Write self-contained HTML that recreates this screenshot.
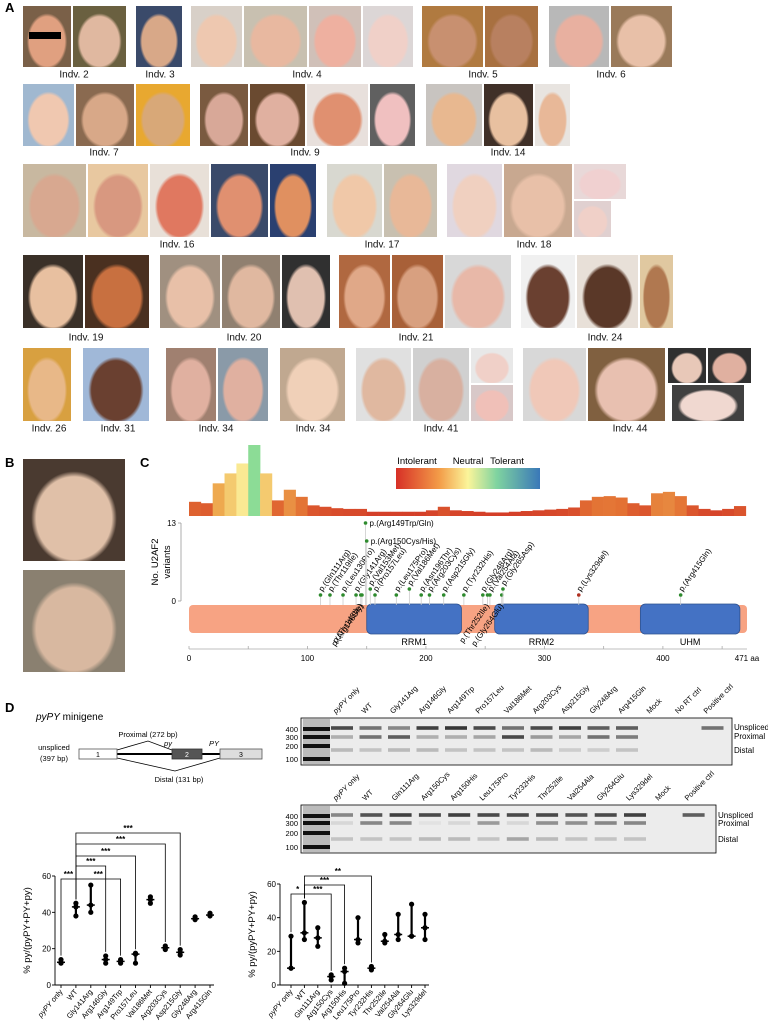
<!DOCTYPE html>
<html><head><meta charset="utf-8">
<style>
html,body{margin:0;padding:0;background:#fff;}
#page{position:relative;width:768px;height:1031px;overflow:hidden;font-family:"Liberation Sans",sans-serif;}
.ph{position:absolute;box-sizing:border-box;border:1px solid #fff;}
.lb{position:absolute;font-size:10px;color:#111;transform:translate(-50%,-50%);white-space:nowrap;}
.pl{position:absolute;font-weight:bold;font-size:13px;}
svg{position:absolute;left:0;top:0;}
</style></head>
<body>
<div id="page">
<div class="pl" style="left:5px;top:0px">A</div>
<div class="pl" style="left:5px;top:455px">B</div>
<div class="pl" style="left:140px;top:455px">C</div>
<div class="pl" style="left:5px;top:700px">D</div>
<div id="photos"></div>
<svg id="chart" width="768" height="1031"></svg>
</div>
<script>
// ---------- Panel A photos (layout, not data) ----------
const photoBoxes = [
 [22,72,5,68,'#7a6048','#e0a080'],[72,127,5,68,'#6a6040','#e0b8a0'],[135,183,5,68,'#3a4a6a','#d8a888'],
 [190,243,5,68,'#d8d0c8','#eec8b0'],[243,308,5,68,'#c8c0b0','#e8b8a0'],[308,362,5,68,'#d0c0b8','#eeb0a0'],[362,414,5,68,'#dcd6d6','#f0d0c8'],
 [421,484,5,68,'#b07a40','#c89070'],[484,539,5,68,'#a87040','#b88060'],[548,610,5,68,'#b8b8b8','#e8b0a0'],[610,673,5,68,'#9a7a5a','#e8c0a8'],
 [22,75,83,147,'#a0b8d0','#f0c8b0'],[75,135,83,147,'#8a6a50','#d8a888'],[135,191,83,147,'#e8a830','#d8a878'],
 [199,249,83,147,'#7a5a40','#d8a898'],[249,306,83,147,'#6a4a30','#e0b0a0'],[306,369,83,147,'#e8e0dc','#e09070'],[369,416,83,147,'#606060','#f0c0c0'],
 [425,483,83,147,'#c8c4c0','#e8b890'],[483,534,83,147,'#403028','#e8c0a0'],[534,571,83,147,'#e8e4e0','#e8b898'],
 [22,87,163,238,'#c8b8a0','#d8a890'],[87,149,163,238,'#e8c8a0','#d89880'],[149,210,163,238,'#e8e0d8','#e07860'],[210,269,163,238,'#3a4a6a','#e09070'],[269,317,163,238,'#2a4070','#e09060'],
 [326,383,163,238,'#d8d8d0','#f0c8a8'],[383,438,163,238,'#c8c0b0','#e8b898'],
 [446,503,163,238,'#e0d8e0','#f0d0c0'],[503,573,163,238,'#c8a890','#e8c0a8'],[573,627,163,200,'#e8d8d8','#f0d0d0'],[573,612,200,238,'#e0d0d0','#f0d0c8'],
 [22,84,254,329,'#3a3028','#e8c0a0'],[84,150,254,329,'#4a3020','#c87040'],
 [159,221,254,329,'#a09080','#e8c0a8'],[221,281,254,329,'#908070','#e0b8a0'],[281,331,254,329,'#303030','#e0c0b0'],
 [338,391,254,329,'#b06840','#e0a888'],[391,444,254,329,'#a86038','#d8a080'],[444,512,254,329,'#d8d8d8','#e8b8a8'],
 [520,576,254,329,'#f0f0f0','#6a4030'],[576,639,254,329,'#e8e0d8','#5a3828'],[639,674,254,329,'#e0c8a0','#b07850'],
 [22,72,347,422,'#d8a040','#e8b888'],[82,150,347,422,'#a0b8d8','#6a4030'],
 [165,217,347,422,'#a08070','#e0b0a0'],[217,269,347,422,'#8a9aa8','#e0b0a0'],[279,346,347,422,'#c0a890','#f0d0b8'],
 [355,412,347,422,'#e0e0e0','#e0b8a0'],[412,470,347,422,'#d0d0d0','#d8b0a0'],[470,514,347,384,'#e8e8e8','#f0d0c8'],[470,514,384,422,'#d8c8c8','#f0c0b8'],
 [522,587,347,422,'#d8d8d8','#f0c8b8'],[587,666,347,422,'#806040','#e8c0b0'],[667,707,347,384,'#303030','#e8c8b8'],[707,752,347,384,'#303030','#e0b0a0'],[671,745,384,422,'#404040','#f0d8d0'],
 [22,126,458,562,'#4a3a30','#e0c0a8'],[22,126,569,673,'#8a8070','#d8b8a0']
];
const photoLabels = [['Indv. 2',74,75],['Indv. 3',160,75],['Indv. 4',307,75],['Indv. 5',483,75],['Indv. 6',611,75],
 ['Indv. 7',104,153],['Indv. 9',305,153],['Indv. 14',508,153],
 ['Indv. 16',177,245],['Indv. 17',382,245],['Indv. 18',534,245],
 ['Indv. 19',86,338],['Indv. 20',244,338],['Indv. 21',416,338],['Indv. 24',605,338],
 ['Indv. 26',49,429],['Indv. 31',118,429],['Indv. 34',216,429],['Indv. 34',313,429],['Indv. 41',441,429],['Indv. 44',630,429]];
const ph = document.getElementById('photos');
photoBoxes.forEach((b,i)=>{
  const d=document.createElement('div');
  d.className='ph';
  
  
  d.style.left=b[0]+'px';d.style.top=b[2]+'px';d.style.width=(b[1]-b[0])+'px';d.style.height=(b[3]-b[2])+'px';
  d.style.background=`radial-gradient(ellipse 42% 46% at 50% 58%, ${b[5]} 0 88%, transparent 100%), ${b[4]}`;
  ph.appendChild(d);
});
photoLabels.forEach(l=>{
  const d=document.createElement('div');
  d.className='lb';d.textContent=l[0];
  
  
  d.style.left=l[1]+'px';d.style.top=l[2]+'px';
  ph.appendChild(d);
});
const bar=document.createElement('div');


bar.style.cssText='position:absolute;left:29px;top:32px;width:32px;height:7px;background:#000';
ph.appendChild(bar);

// ---------- Panel C data ----------
const profileScores = [20,18,46,60,74,100,60,22,37,27,15,13,11,10,10,6,6,6,6,6,8,13,8,7,6,5,5,6,7,8,9,10,12,22,27,28,26,18,15,32,34,28,15,10,8,10,14];
const variantNames = ['p.(Gln111Arg)','p.(Thr119Ile)','p.(Leu130Pro)','p.(Gly141Arg)','p.(Thr145Ile)','p.(Arg146Gly)','p.(Arg149Trp/Gln)','p.(Arg150Cys/His)','p.(Val153Met)','p.(Pro157Leu)','p.(Leu175Pro)','p.(Val186Met)','p.(Asn196Thr)','p.(Arg203Cys)','p.(Asp215Gly)','p.(Tyr232His)','p.(Gly248Arg)','p.(Thr252Ile)','p.(Val254Ala)','p.(Gly264Glu)','p.(Gly265Asp)','p.(Lys329del)','p.(Arg415Gln)'];
const variantPos = [111,119,130,141,145,146,149,150,153,157,175,186,196,203,215,232,248,252,254,264,265,329,415];
const variantCounts = [1,1,1,1,1,1,13,10,2,1,1,2,1,1,1,1,1,1,1,1,2,1,1];
const domainNames = ['RRM1','RRM2','UHM'];
const domainStart = [150,258,381];
const domainEnd = [230,337,465];
const aaTicks = [0,100,200,300,400,471];

// ---------- Panel D data ----------
const gel1Lanes = ['pyPY only','WT','Gly141Arg','Arg146Gly','Arg149Trp','Pro157Leu','Val186Met','Arg203Cys','Asp215Gly','Gly248Arg','Arg415Gln','Mock','No RT ctrl','Positive ctrl'];
const gel1Unspliced = [0.8,0.6,0.5,0.85,0.9,0.8,0.6,0.8,0.85,0.7,0.7,0,0,0.6];
const gel1Proximal = [0.3,0.6,0.7,0.3,0.3,0.35,0.8,0.4,0.35,0.6,0.55,0,0,0];
const gel1Distal = [0.25,0.2,0.25,0.25,0.2,0.2,0.2,0.25,0.15,0.15,0.2,0,0,0];
const gel2Lanes = ['pyPY only','WT','Gln111Arg','Arg150Cys','Arg150His','Leu175Pro','Tyr232His','Thr252Ile','Val254Ala','Gly264Glu','Lys329del','Mock','Positive ctrl'];
const gel2Unspliced = [0.5,0.75,0.85,0.8,0.85,0.8,0.8,0.8,0.75,0.8,0.85,0,0.7];
const gel2Proximal = [0.1,0.5,0.5,0.05,0.1,0.4,0.1,0.45,0.45,0.5,0.5,0,0];
const gel2Distal = [0.2,0.2,0.2,0.25,0.25,0.2,0.35,0.25,0.2,0.2,0.2,0,0];
const ladderLabels = ['400','300','200','100'];
const ladderBp = [400,300,200,100];

const c1Cats = ['pyPY only','WT','Gly141Arg','Arg146Gly','Arg149Trp','Pro157Leu','Val186Met','Arg203Cys','Asp215Gly','Gly248Arg','Arg415Gln'];
const c1Med = [12.5,43,44,14,13,17,47,20.5,18,36.5,38.5];
const c1Min = [12,38,40,12,12,12,45,19.5,16.5,36,38];
const c1Max = [14,45,55,16,14,17.5,48.5,21.5,19.5,37.5,39.5];
const c1Sig = [[0,1,'***',0],[1,3,'***',1],[1,4,'***',0],[1,5,'***',2],[1,7,'***',3],[1,8,'***',4]];
const c2Cats = ['pyPY only','WT','Gln111Arg','Arg150Cys','Arg150His','Leu175Pro','Tyr232His','Thr252Ile','Val254Ala','Gly264Glu','Lys329del'];
const c2Med = [10,31,28,5,8,27,10,26,30,29,34];
const c2Min = [10,27,23,3,1,25,9,25,27,29,27];
const c2Max = [29,49,34,6,10,40,11,30,42,48,42];
const c2Sig = [[0,1,'*',0],[1,3,'***',0],[1,4,'***',1],[1,6,'**',2]];
const yTicks = [0,20,40,60];

const svg=document.getElementById('chart');
const NS='http://www.w3.org/2000/svg';
function el(tag,attrs,parent,text){const e=document.createElementNS(NS,tag);for(const k in attrs)e.setAttribute(k,attrs[k]);if(text!==undefined)e.textContent=text;(parent||svg).appendChild(e);return e;}

// Panel C scales
const aaX = aa => 189 + aa*(747-189)/471;
const countY = c => 601 - c*(601-523)/13;
function tolColor(s){
  const stops=[[0,[208,50,38]],[25,[226,110,50]],[50,[240,180,85]],[75,[250,235,150]],[100,[140,220,150]]];
  for(let i=1;i<stops.length;i++){if(s<=stops[i][0]){const a=stops[i-1],b=stops[i];const t=(s-a[0])/(b[0]-a[0]);
    const c=a[1].map((v,j)=>Math.round(v+(b[1][j]-v)*t));return `rgb(${c})`;}}
  return 'rgb(140,220,150)';
}
const gC=el('g',{});
const gProf=el('g',{},gC);
profileScores.forEach((s,i)=>{
  const x0=aaX(i*10), x1=aaX(Math.min(471,(i+1)*10));
  const h=s*0.71;
  const r=el('rect',{x:x0,y:516-h,width:x1-x0+0.3,height:h,fill:tolColor(s)},gProf);
  
  
});
// legend
const defs=el('defs',{});
const lg=el('linearGradient',{id:'tolg',x1:'0',x2:'1',y1:'0',y2:'0'},defs);
[['0','#d73027'],['0.3','#f39c48'],['0.5','#fbf59a'],['0.7','#7fd3a0'],['1','#3a78b8']].forEach(s=>el('stop',{offset:s[0],'stop-color':s[1]},lg));
const gLeg=el('g',{},gC);
el('rect',{x:396,y:468,width:144,height:21,fill:'url(#tolg)'},gLeg);
[['Intolerant',417],['Neutral',468],['Tolerant',507]].forEach(t=>el('text',{x:t[1],y:464,'font-size':'9.5','text-anchor':'middle'},gLeg,t[0]));
// y axis
const gYa=el('g',{},gC);
el('line',{x1:181,y1:523,x2:181,y2:601,stroke:'#999','stroke-width':'0.8'},gYa);
[13,0].forEach(v=>{el('line',{x1:178,y1:countY(v),x2:181,y2:countY(v),stroke:'#999','stroke-width':'0.8'},gYa);
  el('text',{x:176,y:countY(v)+3,'font-size':'8','text-anchor':'end'},gYa,String(v));});
el('text',{transform:'translate(158,562) rotate(-90)','font-size':'9.5','text-anchor':'middle'},gYa,'No. U2AF2');
el('text',{transform:'translate(170,562) rotate(-90)','font-size':'9.5','text-anchor':'middle'},gYa,'variants');
// protein bar
const gP=el('g',{},gC);
el('rect',{x:aaX(0),y:605,width:aaX(471)-aaX(0),height:28,rx:4,fill:'#f7a383'},gP);
domainNames.forEach((n,i)=>{
  const r=el('rect',{x:aaX(domainStart[i]),y:604,width:aaX(domainEnd[i])-aaX(domainStart[i]),height:30,rx:5,fill:'#4472c4',stroke:'#2f528f','stroke-width':'0.8'},gP);
  
  
  el('text',{x:(aaX(domainStart[i])+aaX(domainEnd[i]))/2,y:645,'font-size':'9','text-anchor':'middle'},gP,n);
});
// x axis aa
const gXa=el('g',{},gC);
el('line',{x1:aaX(0),y1:649,x2:aaX(471),y2:649,stroke:'#aaa','stroke-width':'0.8'},gXa);
for(let a=0;a<=450;a+=50)el('line',{x1:aaX(a),y1:646,x2:aaX(a),y2:649,stroke:'#aaa','stroke-width':'0.8'},gXa);
aaTicks.forEach(a=>el('text',{x:aaX(a),y:661,'font-size':'8','text-anchor':'middle'},gXa,a===471?'471 aa':String(a)));
// variants
const belowSet=['p.(Thr145Ile)','p.(Arg146Gly)','p.(Thr252Ile)','p.(Gly264Glu)'];
const horiz=['p.(Arg149Trp/Gln)','p.(Arg150Cys/His)'];
const gV=el('g',{},gC);
variantNames.forEach((n,i)=>{
  const x=aaX(variantPos[i]), y=countY(variantCounts[i]);
  el('line',{x1:x,y1:605,x2:x,y2:y,stroke:'#ccc','stroke-width':'0.8'},gV);
  const c=el('circle',{cx:x,cy:y,r:1.8,fill:n==='p.(Lys329del)'?'#b03020':'#2e8b2e'},gV);
  
  
  let t;
  if(horiz.includes(n)) t=el('text',{x:x+4,y:y+3,'font-size':'8'},gV,n);
  else if(belowSet.includes(n)) t=el('text',{'font-size':'8','text-anchor':'end',transform:`translate(${x+2},${606}) rotate(-55)`},gV,n);
  else t=el('text',{'font-size':'8',transform:`translate(${x+2},${y-3}) rotate(-55)`},gV,n);
});

// ---------- Panel D ----------
const gD=el('g',{});
const t1=el('text',{x:36,y:720,'font-size':'10'},gD);
el('tspan',{'font-style':'italic'},t1,'pyPY');el('tspan',{},t1,' minigene');
// minigene diagram
const gM=el('g',{},gD);
el('line',{x1:117,y1:754,x2:172,y2:754,stroke:'#000','stroke-width':'2'},gM);
el('line',{x1:202,y1:754,x2:220,y2:754,stroke:'#000','stroke-width':'2'},gM);
el('polyline',{points:'117,750 148,741 172,750',fill:'none',stroke:'#000','stroke-width':'0.8'},gM);
el('polyline',{points:'117,758 175,771 220,758',fill:'none',stroke:'#000','stroke-width':'0.8'},gM);
el('rect',{x:79,y:749,width:38,height:10,fill:'#fff',stroke:'#555','stroke-width':'0.8'},gM);
el('rect',{x:172,y:749,width:30,height:10,fill:'#555',stroke:'#333','stroke-width':'0.8'},gM);
el('rect',{x:220,y:749,width:42,height:10,fill:'#ddd',stroke:'#555','stroke-width':'0.8'},gM);
el('text',{x:98,y:757,'font-size':'7','text-anchor':'middle'},gM,'1');
el('text',{x:187,y:757,'font-size':'7','text-anchor':'middle',fill:'#fff'},gM,'2');
el('text',{x:241,y:757,'font-size':'7','text-anchor':'middle'},gM,'3');
el('text',{x:148,y:737,'font-size':'7.5','text-anchor':'middle'},gM,'Proximal (272 bp)');
el('text',{x:179,y:782,'font-size':'7.5','text-anchor':'middle'},gM,'Distal (131 bp)');
el('text',{x:168,y:746,'font-size':'7.5','font-style':'italic','text-anchor':'middle'},gM,'py');
el('text',{x:214,y:746,'font-size':'7.5','font-style':'italic','text-anchor':'middle'},gM,'PY');
el('text',{x:54,y:750,'font-size':'7.5','text-anchor':'middle'},gM,'unspliced');
el('text',{x:54,y:761,'font-size':'7.5','text-anchor':'middle'},gM,'(397 bp)');

function drawGel(name,x0,x1,y0,y1,lanes,un,pr,di,laneStart,laneStep,bandY,ladY,rightY){
  const g=el('g',{},gD);
  el('rect',{x:x0,y:y0,width:x1-x0,height:y1-y0,fill:'#ececec',stroke:'#000','stroke-width':'0.8'},g);
  el('rect',{x:x0+2,y:y0+1,width:27,height:y1-y0-2,fill:'#bbb'},g);
  ladderBp.forEach((bp,i)=>{el('rect',{x:x0+2,y:ladY[i]-2,width:27,height:4,fill:'#111'},g);
    el('text',{x:x0-3,y:ladY[i]+3,'font-size':'7.5','text-anchor':'end'},g,ladderLabels[i]);});
  lanes.forEach((n,i)=>{
    const cx=laneStart+i*laneStep;
    [[un,bandY[0]],[pr,bandY[1]],[di,bandY[2]]].forEach(a=>{
      const v=a[0][i]; if(v<=0) return;
      const r=el('rect',{x:cx-11,y:a[1]-1.8,width:22,height:3.6,fill:'#222','fill-opacity':v},g);
      
      
    });
    const t=el('text',{'font-size':'7.5',transform:`translate(${cx-6},${y0-4}) rotate(-45)`},g);
    if(n==='pyPY only'){el('tspan',{'font-style':'italic'},t,'pyPY');el('tspan',{},t,' only');}
    else t.textContent=n;
  });
  ['Unspliced','Proximal','Distal'].forEach((s,i)=>el('text',{x:x1+2,y:rightY[i],'font-size':'8'},g,s));
}
drawGel('gel-1',301,732,718,765,gel1Lanes,gel1Unspliced,gel1Proximal,gel1Distal,342,28.5,[728,737,750],[729,737,746,759],[730,739,753]);
drawGel('gel-2',301,716,805,853,gel2Lanes,gel2Unspliced,gel2Proximal,gel2Distal,342,29.3,[815,823,839],[816,823,833,847],[818,826,842]);

function drawChart(name,axX,cats,med,mn,mx,sig,x0,step,yTop,sigY){
  const g=el('g',{},gD);
  const y=v=>985-v*(985-yTop)/60;
  const xs=i=>x0+i*step;
  el('line',{x1:axX,y1:y(60),x2:axX,y2:985,stroke:'#000','stroke-width':'0.9'},g);
  el('line',{x1:axX,y1:985,x2:xs(cats.length-1)+4,y2:985,stroke:'#000','stroke-width':'0.9'},g);
  yTicks.forEach(v=>{el('line',{x1:axX-3,y1:y(v),x2:axX,y2:y(v),stroke:'#000','stroke-width':'0.9'},g);
    el('text',{x:axX-4,y:y(v)+3,'font-size':'8','text-anchor':'end'},g,String(v));});
  el('text',{transform:`translate(${axX-25},${y(30)}) rotate(-90)`,'font-size':'9.5','text-anchor':'middle'},g,'% py/(pyPY+PY+py)');
  cats.forEach((c,i)=>{
    const x=xs(i);
    el('line',{x1:x,y1:985,x2:x,y2:988,stroke:'#000','stroke-width':'0.9'},g);
    const t=el('text',{'font-size':'7.5','text-anchor':'end',transform:`translate(${x+2},${992}) rotate(-50)`},g);
    if(c==='pyPY only'){el('tspan',{'font-style':'italic'},t,'pyPY');el('tspan',{},t,' only');} else t.textContent=c;
    el('line',{x1:x,y1:y(mn[i]),x2:x,y2:y(mx[i]),stroke:'#000','stroke-width':'2.2'},g);
    el('line',{x1:x-4,y1:y(med[i]),x2:x+4,y2:y(med[i]),stroke:'#000','stroke-width':'1.5'},g);
    [mn[i],med[i],mx[i]].forEach(v=>{const d=el('circle',{cx:x,cy:y(v),r:2.6,fill:'#000'},g);
      
      });
  });
  sig.forEach(s=>{
    const a=xs(s[0]),b=xs(s[1]),yy=sigY[s[3]];
    el('polyline',{points:`${a},${y(mx[s[0]])-4} ${a},${yy} ${b},${yy} ${b},${y(mx[s[1]])-4}`,fill:'none',stroke:'#000','stroke-width':'0.8'},g);
    el('text',{x:(a+b)/2,y:yy-2,'font-size':'8','text-anchor':'middle','font-weight':'bold'},g,s[2]);
  });
}
drawChart('chart-group-1',55,c1Cats,c1Med,c1Min,c1Max,c1Sig,61,14.9,876,[879,866,856,844,833]);
drawChart('chart-group-2',280,c2Cats,c2Med,c2Min,c2Max,c2Sig,291,13.4,884,[894,885,876]);
</script>
</body></html>
